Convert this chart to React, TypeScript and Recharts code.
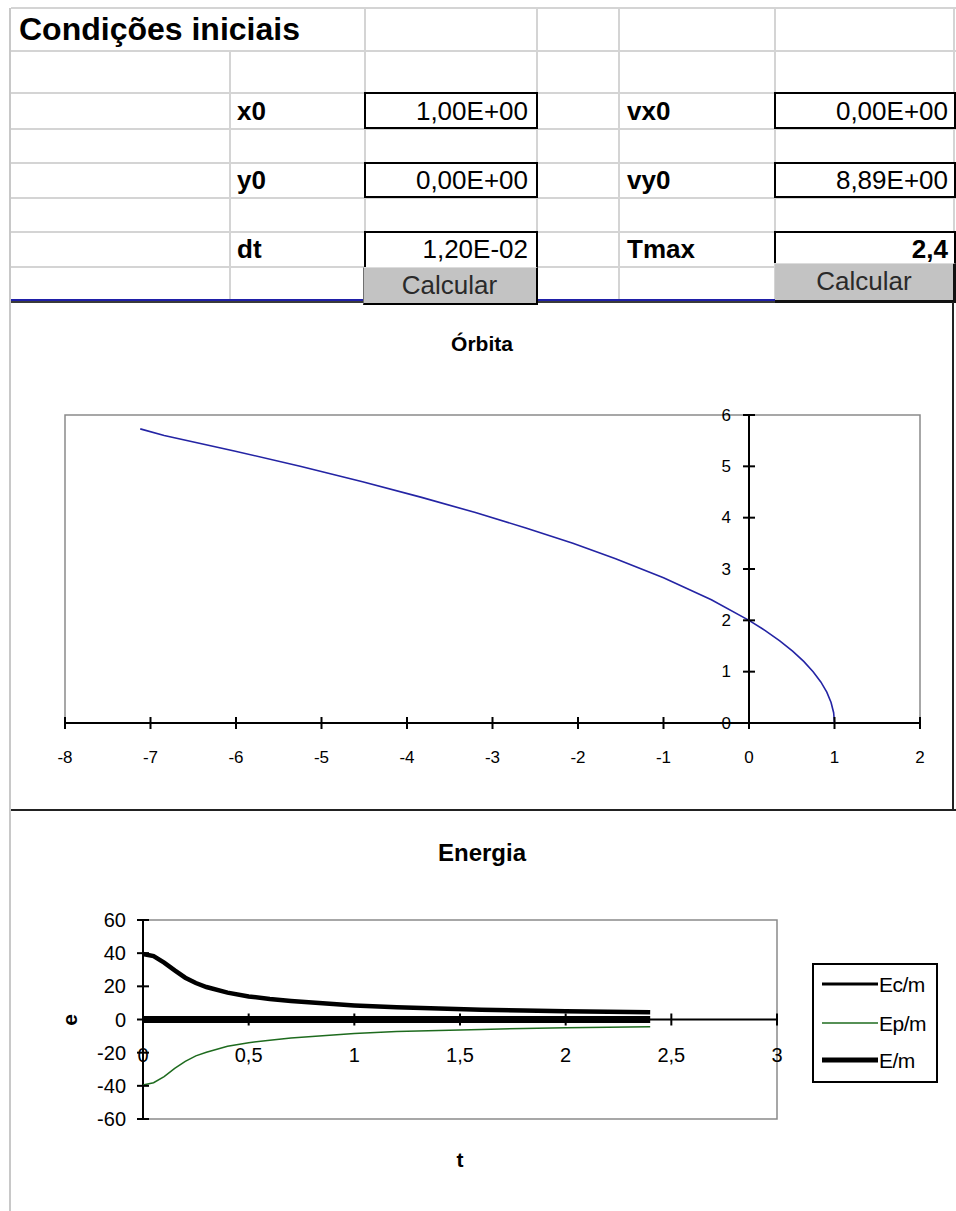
import React from 'react';
import { ComposedChart, Line, XAxis, YAxis, ReferenceLine, ReferenceArea, Scatter } from 'recharts';

const FONT = '"Liberation Sans", Arial, Helvetica, sans-serif';

// ---------- sheet data ----------
const sheetTitle = 'Condições iniciais';
const leftLabels = ['x0', 'y0', 'dt'];
const leftValues = ['1,00E+00', '0,00E+00', '1,20E-02'];
const rightLabels = ['vx0', 'vy0', 'Tmax'];
const rightValues = ['0,00E+00', '8,89E+00', '2,4'];
const buttonLabel = 'Calcular';

// ---------- orbit data (x, y) in time order ----------
const orbitX = [1.0, 0.99, 0.96, 0.91, 0.84, 0.75, 0.64, 0.51, 0.36, 0.19, 0.0, -0.44, -1.0, -1.56, -2.06, -2.61, -3.2, -3.84, -4.52, -5.25, -6.02, -6.84, -7.12];
const orbitY = [0, 0.2, 0.4, 0.6, 0.8, 1.0, 1.2, 1.4, 1.6, 1.8, 2.0, 2.4, 2.83, 3.2, 3.5, 3.8, 4.1, 4.4, 4.7, 5.0, 5.3, 5.6, 5.73];
const orbitXTicks = [-8, -7, -6, -5, -4, -3, -2, -1, 0, 1, 2];
const orbitYTicks = [0, 1, 2, 3, 4, 5, 6];

// ---------- energy data ----------
const timeT = [0, 0.05, 0.1, 0.15, 0.2, 0.25, 0.3, 0.4, 0.5, 0.6, 0.7, 0.8, 0.9, 1.0, 1.2, 1.4, 1.6, 1.8, 2.0, 2.2, 2.4];
const ecM = [39.5, 38.2, 34.3, 29.6, 25.2, 22.0, 19.6, 16.2, 13.9, 12.4, 11.2, 10.2, 9.3, 8.5, 7.4, 6.6, 5.9, 5.4, 5.0, 4.7, 4.4];
const epM = [-39.5, -38.1, -34.4, -29.5, -25.3, -21.9, -19.7, -16.1, -14.0, -12.5, -11.1, -10.2, -9.4, -8.5, -7.3, -6.6, -6.0, -5.4, -5.0, -4.6, -4.4];
const eM = [0, 0, 0, 0, 0, 0, 0, 0, 0, 0, 0, 0, 0, 0, 0, 0, 0, 0, 0, 0, 0];
const energyXTicks = [0, 0.5, 1, 1.5, 2, 2.5, 3];
const energyXTickLabels = ['0', '0,5', '1', '1,5', '2', '2,5', '3'];
const energyYTicks = [-60, -40, -20, 0, 20, 40, 60];
const seriesNames = ['Ec/m', 'Ep/m', 'E/m'];

const seriesStyle = [
  { key: 'ec', color: '#000000', width: 4.5, legendWidth: 3 },
  { key: 'ep', color: '#1e6b1e', width: 1.5, legendWidth: 1.5 },
  { key: 'e', color: '#000000', width: 7, legendWidth: 5 },
];

const orbitData = orbitX.map((x, i) => ({ x, y: orbitY[i] }));
const orbitXTickData = orbitXTicks.map((v) => ({ x: v, y: 0, label: String(v) }));
const orbitYTickData = orbitYTicks.map((v) => ({ x: 0, y: v, label: String(v) }));

const energyData = timeT.map((t, i) => ({ t, ec: ecM[i], ep: epM[i], e: eM[i] }));
const energyXTickData = energyXTicks.map((v, i) => ({ t: v, v: 0, label: energyXTickLabels[i] }));
const energyYTickData = energyYTicks.map((v) => ({ t: 0, v, label: String(v) }));

// ---------- helpers ----------
type TxtProps = {
  left: number; top: number; width: number; height: number;
  align?: 'left' | 'right' | 'center'; size: number; bold?: boolean; color?: string; spacing?: number;
  children: React.ReactNode;
};
const Txt = ({ left, top, width, height, align = 'left', size, bold, color = '#000', spacing, children }: TxtProps) => (
  <div
    style={{
      position: 'absolute', left, top, width, height, lineHeight: height + 'px', textAlign: align,
      fontSize: size, fontWeight: bold ? 700 : 400, color, letterSpacing: spacing, whiteSpace: 'nowrap',
      fontFamily: FONT,
    }}
  >
    {children}
  </div>
);

const Rect = ({ left, top, width, height, bg }: { left: number; top: number; width: number; height: number; bg: string }) => (
  <div style={{ position: 'absolute', left, top, width, height, background: bg }} />
);

const GRID = '#d4d4d4';

function Sheet() {
  const rowLines = [8, 51, 93, 129, 163, 198, 232, 267];
  const colsTitle = [365, 537, 619, 775, 954];
  const colsBody = [230, 365, 537, 619, 775, 954];
  const dataRows = [
    { top: 93, h: 36 },
    { top: 163, h: 35 },
    { top: 232, h: 35 },
  ];
  return (
    <>
      {rowLines.map((y) => (
        <Rect key={'h' + y} left={11} top={y - 1} width={945} height={2} bg={GRID} />
      ))}
      {colsTitle.map((x) => (
        <Rect key={'vt' + x} left={x - 1} top={8} width={2} height={43} bg={GRID} />
      ))}
      {colsBody.map((x) => (
        <Rect key={'vb' + x} left={x - 1} top={51} width={2} height={250} bg={GRID} />
      ))}
      {/* left sheet border */}
      <Rect left={9} top={8} width={2} height={1203} bg="#c8c8c8" />

      <Txt left={19} top={8} width={340} height={43} size={32} bold>{sheetTitle}</Txt>

      {dataRows.map((r, i) => (
        <React.Fragment key={'r' + i}>
          <Txt left={237} top={r.top} width={120} height={r.h} size={26} bold>{leftLabels[i]}</Txt>
          <Txt left={627} top={r.top} width={140} height={r.h} size={26} bold>{rightLabels[i]}</Txt>
          {/* value boxes */}
          <div
            style={{
              position: 'absolute', left: 364, top: r.top - 1, width: 174, height: r.h + 1,
              boxSizing: 'border-box', border: '2px solid #000', borderBottom: i === 2 ? 'none' : '2px solid #000',
              background: '#fff',
            }}
          />
          <div
            style={{
              position: 'absolute', left: 774, top: r.top - 1, width: 182, height: i === 2 ? 32 : r.h + 1,
              boxSizing: 'border-box', border: '2px solid #000', borderBottom: i === 2 ? 'none' : '2px solid #000',
              background: '#fff',
            }}
          />
          <Txt left={364} top={r.top} width={164} height={r.h} size={26} align="right">{leftValues[i]}</Txt>
          <Txt left={774} top={r.top} width={174} height={r.h} size={26} align="right" bold={i === 2}>{rightValues[i]}</Txt>
        </React.Fragment>
      ))}

      {/* blue line + object top border */}
      <Rect left={11} top={299} width={945} height={2} bg="#1f1fa8" />
      <Rect left={11} top={301} width={943} height={2} bg="#3a3a3a" />

      {/* buttons */}
      <div
        style={{
          position: 'absolute', left: 363, top: 267, width: 175, height: 38, boxSizing: 'border-box',
          background: '#c3c3c3', borderLeft: '1px solid #707070', borderTop: '1px solid #dcdcdc',
          borderRight: '2px solid #000', borderBottom: '2px solid #000',
        }}
      />
      <Txt left={363} top={267} width={173} height={36} size={26} align="center" color="#2a2a2a">{buttonLabel}</Txt>
      <div
        style={{
          position: 'absolute', left: 775, top: 263, width: 181, height: 40, boxSizing: 'border-box',
          background: '#c3c3c3', borderTop: '1px solid #dcdcdc', borderBottom: '3px solid #111',
          borderRight: '3px solid #111',
        }}
      />
      <Txt left={775} top={263} width={178} height={36} size={26} align="center" color="#2a2a2a">{buttonLabel}</Txt>
    </>
  );
}

const makeXTick = (size: number, dy: number) => (props: any) => {
  const { cx, cy, payload } = props;
  const label = payload?.label ?? props.label;
  return (
    <g>
      <line x1={cx} x2={cx} y1={cy - 6} y2={cy + 6} stroke="#000" strokeWidth={2} />
      <text x={cx} y={cy + dy} textAnchor="middle" dominantBaseline="central" fontSize={size} fontFamily={FONT} fill="#000">
        {label}
      </text>
    </g>
  );
};

const makeYTick = (size: number, dx: number) => (props: any) => {
  const { cx, cy, payload } = props;
  const label = payload?.label ?? props.label;
  return (
    <g>
      <line x1={cx - 6} x2={cx + 6} y1={cy} y2={cy} stroke="#000" strokeWidth={2} />
      <text x={cx - dx} y={cy} textAnchor="end" dominantBaseline="central" fontSize={size} fontFamily={FONT} fill="#000">
        {label}
      </text>
    </g>
  );
};

function OrbitChart() {
  return (
    <>
      <Txt left={10} top={330} width={944} height={28} size={21} bold align="center">Órbita</Txt>
      <div style={{ position: 'absolute', left: 0, top: 302 }}>
        <ComposedChart width={956} height={508} data={orbitData} margin={{ top: 113, right: 36, bottom: 87, left: 65 }}>
          <XAxis type="number" dataKey="x" domain={[-8, 2]} hide />
          <YAxis type="number" domain={[0, 6]} hide />
          <ReferenceArea x1={-8} x2={2} y1={0} y2={6} fill="none" fillOpacity={0} stroke="#8a8a8a" strokeWidth={1.5} />
          <ReferenceLine x={0} stroke="#000" strokeWidth={2} />
          <ReferenceLine y={0} stroke="#000" strokeWidth={2} />
          <Line type="linear" dataKey="y" stroke="#2424a4" strokeWidth={1.6} dot={false} activeDot={false} isAnimationActive={false} />
          <Scatter data={orbitXTickData} dataKey="y" shape={makeXTick(17, 34)} isAnimationActive={false} />
          <Scatter data={orbitYTickData} dataKey="y" shape={makeYTick(17, 18)} isAnimationActive={false} />
        </ComposedChart>
      </div>
      {/* object border */}
      <Rect left={952} top={302} width={2} height={508} bg="#222" />
      <Rect left={11} top={809} width={945} height={2} bg="#222" />
    </>
  );
}

function EnergyChart() {
  return (
    <>
      <Txt left={10} top={837} width={944} height={32} size={24} bold align="center">Energia</Txt>
      <div style={{ position: 'absolute', left: 0, top: 810 }}>
        <ComposedChart width={956} height={401} data={energyData} margin={{ top: 110, right: 179, bottom: 92, left: 143 }}>
          <XAxis type="number" dataKey="t" domain={[0, 3]} hide />
          <YAxis type="number" domain={[-60, 60]} hide />
          <ReferenceArea x1={0} x2={3} y1={-60} y2={60} fill="none" fillOpacity={0} stroke="#8a8a8a" strokeWidth={1.5} />
          <ReferenceLine x={0} stroke="#000" strokeWidth={2} />
          <ReferenceLine y={0} stroke="#000" strokeWidth={2} />
          {seriesStyle.map((s, i) => (
            <Line
              key={s.key}
              type="linear"
              dataKey={s.key}
              name={seriesNames[i]}
              stroke={s.color}
              strokeWidth={s.width}
              dot={false}
              activeDot={false}
              isAnimationActive={false}
            />
          ))}
          <Scatter data={energyXTickData} dataKey="v" shape={makeXTick(20, 35)} isAnimationActive={false} />
          <Scatter data={energyYTickData} dataKey="v" shape={makeYTick(20, 17)} isAnimationActive={false} />
        </ComposedChart>
      </div>
      {/* axis titles */}
      <div
        style={{
          position: 'absolute', left: 50, top: 1005, width: 40, height: 30, lineHeight: '30px', textAlign: 'center',
          fontSize: 21, fontWeight: 700, fontFamily: FONT, transform: 'rotate(-90deg)',
        }}
      >
        e
      </div>
      <Txt left={420} top={1145} width={80} height={30} size={21} bold align="center">t</Txt>
      {/* legend */}
      <svg style={{ position: 'absolute', left: 812, top: 963 }} width={127} height={121}>
        <rect x={1} y={1} width={124} height={118} fill="#fff" stroke="#000" strokeWidth={2} />
        {seriesStyle.map((s, i) => {
          const y = [21, 60, 97][i];
          return (
            <g key={s.key}>
              <line x1={10} x2={66} y1={y} y2={y} stroke={s.color} strokeWidth={s.legendWidth} />
              <text x={67} y={y} dominantBaseline="central" fontSize={21} fontFamily={FONT} letterSpacing={-0.5} fill="#000">
                {seriesNames[i]}
              </text>
            </g>
          );
        })}
      </svg>
    </>
  );
}

export default function App() {
  return (
    <div
      style={{
        position: 'absolute', left: 0, top: 0, width: 956, height: 1211, background: '#fff', overflow: 'hidden',
        fontFamily: FONT,
      }}
    >
      <Sheet />
      <OrbitChart />
      <EnergyChart />
    </div>
  );
}
